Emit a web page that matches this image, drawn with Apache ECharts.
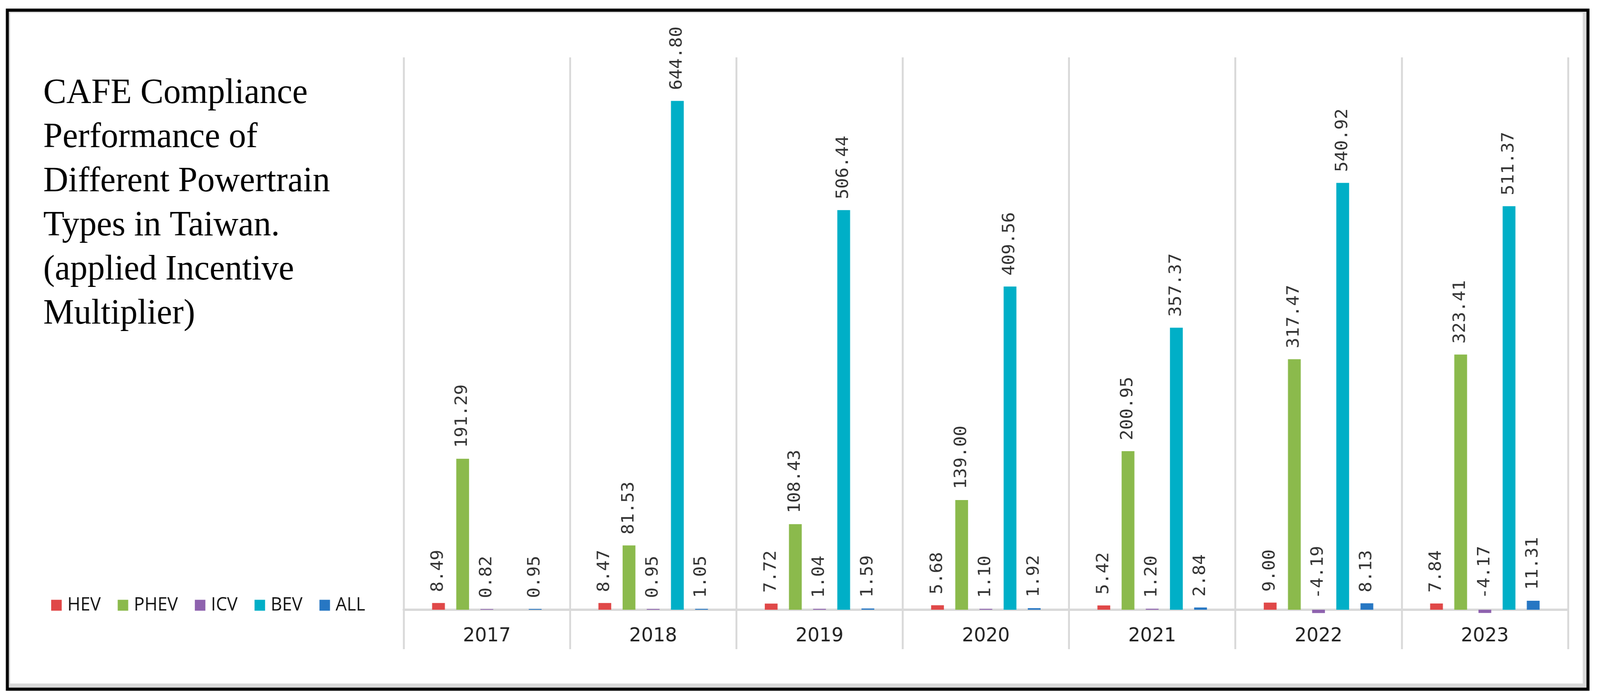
<!DOCTYPE html>
<html>
<head>
<meta charset="utf-8">
<script src="https://cdn.jsdelivr.net/npm/echarts@6/dist/echarts.min.js"></script>
<style>
  html, body { margin: 0; padding: 0; background: #fff; overflow: hidden; }
  #chart { width: 4253px; height: 1783px; transform-origin: 0 0; }
</style>
</head>
<body>
<div id="chart"></div>
<script>
const categories = ['2017', '2018', '2019', '2020', '2021', '2022', '2023'];
const seriesNames = ['HEV', 'PHEV', 'ICV', 'BEV', 'ALL'];
const hevValues  = [8.49, 8.47, 7.72, 5.68, 5.42, 9.00, 7.84];
const phevValues = [191.29, 81.53, 108.43, 139.00, 200.95, 317.47, 323.41];
const icvValues  = [0.82, 0.95, 1.04, 1.10, 1.20, -4.19, -4.17];
const bevValues  = [null, 644.80, 506.44, 409.56, 357.37, 540.92, 511.37];
const allValues  = [0.95, 1.05, 1.59, 1.92, 2.84, 8.13, 11.31];
const seriesColors = ['#E04848', '#8BBA4C', '#8E62AE', '#00AFC7', '#2777C3'];
const titleText = 'CAFE Compliance\nPerformance of\nDifferent Powertrain\nTypes in Taiwan.\n(applied Incentive\nMultiplier)';

const valueSets = [hevValues, phevValues, icvValues, bevValues, allValues];

const W = 4253, H = 1783;
const el = document.getElementById('chart');
const vw = window.innerWidth || W, vh = window.innerHeight || H;
if (Math.abs(vw - W) > 1 || Math.abs(vh - H) > 1) {
  el.style.transform = 'scale(' + (vw / W) + ',' + (vh / H) + ')';
}

const chart = echarts.init(el, null, { renderer: 'canvas' });

const series = seriesNames.map((name, i) => ({
  name: name,
  type: 'bar',
  data: valueSets[i].map(v => (v === null ? '-' : v)),
  barWidth: 34,
  barGap: '89%',
  itemStyle: { color: seriesColors[i] },
  label: {
    show: true,
    position: 'top',
    rotate: 90,
    align: 'left',
    verticalAlign: 'middle',
    distance: 28,
    fontFamily: 'DejaVu Sans Mono',
    fontSize: 45,
    color: '#333',
    formatter: p => (typeof p.value === 'number' ? p.value.toFixed(2) : '')
  }
}));

const option = {
  animation: false,
  backgroundColor: '#fff',
  title: {
    text: titleText,
    left: 115,
    top: 183,
    padding: 0,
    textStyle: {
      fontFamily: 'Liberation Serif',
      fontSize: 92,
      fontWeight: 'normal',
      lineHeight: 113,
      color: '#000'
    }
  },
  legend: {
    data: seriesNames,
    left: 136,
    top: 1527,
    padding: 0,
    icon: 'rect',
    itemWidth: 28,
    itemHeight: 28,
    itemGap: 45,
    textStyle: {
      fontFamily: 'Open Sans',
      fontSize: 47,
      lineHeight: 47,
      color: '#111',
      padding: [0, 0, 0, 10]
    }
  },
  grid: { left: 1073, right: 85, top: 147, bottom: 120, containLabel: false },
  xAxis: {
    type: 'category',
    data: categories,
    boundaryGap: true,
    axisLine: { show: true, onZero: true, lineStyle: { color: '#d9d9d9', width: 6 } },
    axisTick: { show: false },
    axisLabel: {
      interval: 0,
      margin: -58,
      fontFamily: 'DejaVu Sans',
      fontSize: 50,
      color: '#222'
    },
    splitLine: { show: true, interval: 0, lineStyle: { color: '#d9d9d9', width: 5 } }
  },
  yAxis: {
    type: 'value',
    min: -50,
    max: 700,
    interval: 50,
    show: false,
    splitLine: { show: false }
  },
  graphic: [
    { type: 'rect', z: -10, silent: true, shape: { x: 24, y: 29, width: 4193, height: 1732 }, style: { fill: '#d9d9d9' } },
    { type: 'rect', z: -9, silent: true, shape: { x: 27, y: 33, width: 4180, height: 1718 }, style: { fill: '#ffffff' } },
    { type: 'rect', z: 100, silent: true, shape: { x: 19.5, y: 26, width: 4201.5, height: 1739.5 }, style: { fill: 'none', stroke: '#000', lineWidth: 8 } }
  ],
  series: series
};

chart.setOption(option);
</script>
</body>
</html>
